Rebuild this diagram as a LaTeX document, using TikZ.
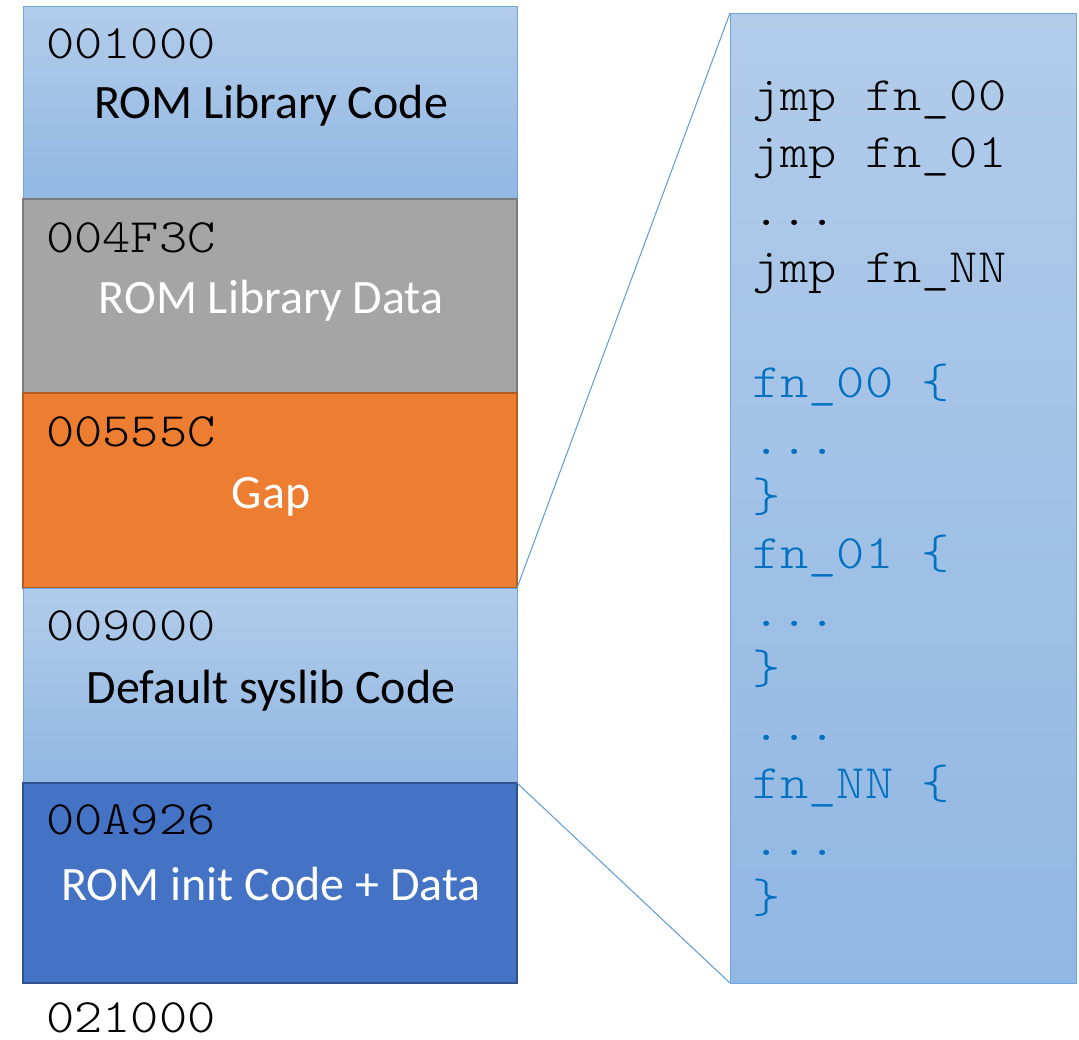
\documentclass[tikz,border=0pt]{standalone}
\usepackage{fontspec}
\setmainfont{Carlito}
\newfontfamily\codefont{lmmonolt10-regular.otf}[FakeStretch=1.12]
\definecolor{lbtop}{HTML}{B2CCEA}
\definecolor{lbbot}{HTML}{91B7E3}
\definecolor{lbedge}{HTML}{6FA5DC}
\definecolor{greyfill}{HTML}{A5A5A5}
\definecolor{greyedge}{HTML}{7B7B7B}
\definecolor{orfill}{HTML}{ED7D31}
\definecolor{oredge}{HTML}{B35D22}
\definecolor{dbfill}{HTML}{4472C4}
\definecolor{dbedge}{HTML}{2F528F}
\definecolor{codeblue}{HTML}{0070C0}
\definecolor{linkblue}{HTML}{5B9BD5}
\tikzset{
  region/.style={rectangle, anchor=north west, minimum width=494pt, inner sep=0pt, outer sep=0pt},
  lightregion/.style={region, top color=lbtop, bottom color=lbbot, draw=lbedge, line width=1pt},
  addr/.style={anchor=base west, inner sep=0pt, font=\codefont\fontsize{48}{56}\selectfont},
  title/.style={anchor=base, inner sep=0pt, font=\fontsize{48}{56}\selectfont},
  codeline/.style={anchor=base west, inner sep=0pt, font=\codefont\fontsize{48}{56}\selectfont},
  link/.style={draw=linkblue, line width=1pt}
}
\begin{document}
\begin{tikzpicture}[x=1pt, y=-1pt]
\useasboundingbox (0,0) rectangle (1079,1039);

% memory regions
\node[lightregion, minimum height=193pt] (rlc) at (23,6) {};
\node[region, fill=greyfill, draw=greyedge, line width=2pt, minimum height=194pt] (rld) at (23,199) {};
\node[region, fill=orfill, draw=oredge, line width=2pt, minimum height=195pt] (gap) at (23,393) {};
\node[lightregion, minimum height=195pt] (sys) at (23,588) {};
\node[region, fill=dbfill, draw=dbedge, line width=2pt, minimum height=200pt] (ini) at (23,783) {};

% start addresses
\node[addr] (a1) at (46,58) {001000};
\node[addr] (a2) at (46,252) {004F3C};
\node[addr] (a3) at (46,446) {00555C};
\node[addr] (a4) at (46,640) {009000};
\node[addr] (a5) at (46,834) {00A926};
\node[addr] (a6) at (46,1032) {021000};

% region names
\node[title, text=black] (t1) at (271,118) {ROM Library Code};
\node[title, text=white] (t2) at (271,313) {ROM Library Data};
\node[title, text=white] (t3) at (271,508) {Gap};
\node[title, text=black] (t4) at (271,703) {Default syslib Code};
\node[title, text=white] (t5) at (271,900) {ROM init Code + Data};

% expanded view of the syslib code
\node[rectangle, anchor=north west, inner sep=0pt, outer sep=0pt, minimum width=346pt, minimum height=970pt,
      top color=lbtop, bottom color=lbbot, draw=lbedge, line width=1pt] (panel) at (730,13) {};

\draw[link] (sys.north east) -- (panel.north west);
\draw[link] (ini.north east) -- (panel.south west);

% jump table
\node[codeline, text=black] (c0) at (752,110) {jmp fn\_00};
\node[codeline, text=black] (c1) at (752,167) {jmp fn\_01};
\node[codeline, text=black] (c2) at (752,225) {...};
\node[codeline, text=black] (c3) at (752,282) {jmp fn\_NN};

% function bodies
\node[codeline, text=codeblue] (c5) at (752,397) {fn\_00 \{};
\node[codeline, text=codeblue] (c6) at (752,454) {...};
\node[codeline, text=codeblue] (c7) at (752,511) {\}};
\node[codeline, text=codeblue] (c8) at (752,568) {fn\_01 \{};
\node[codeline, text=codeblue] (c9) at (752,626) {...};
\node[codeline, text=codeblue] (c10) at (752,683) {\}};
\node[codeline, text=codeblue] (c11) at (752,740) {...};
\node[codeline, text=codeblue] (c12) at (752,798) {fn\_NN \{};
\node[codeline, text=codeblue] (c13) at (752,855) {...};
\node[codeline, text=codeblue] (c14) at (752,912) {\}};
\end{tikzpicture}
\end{document}
